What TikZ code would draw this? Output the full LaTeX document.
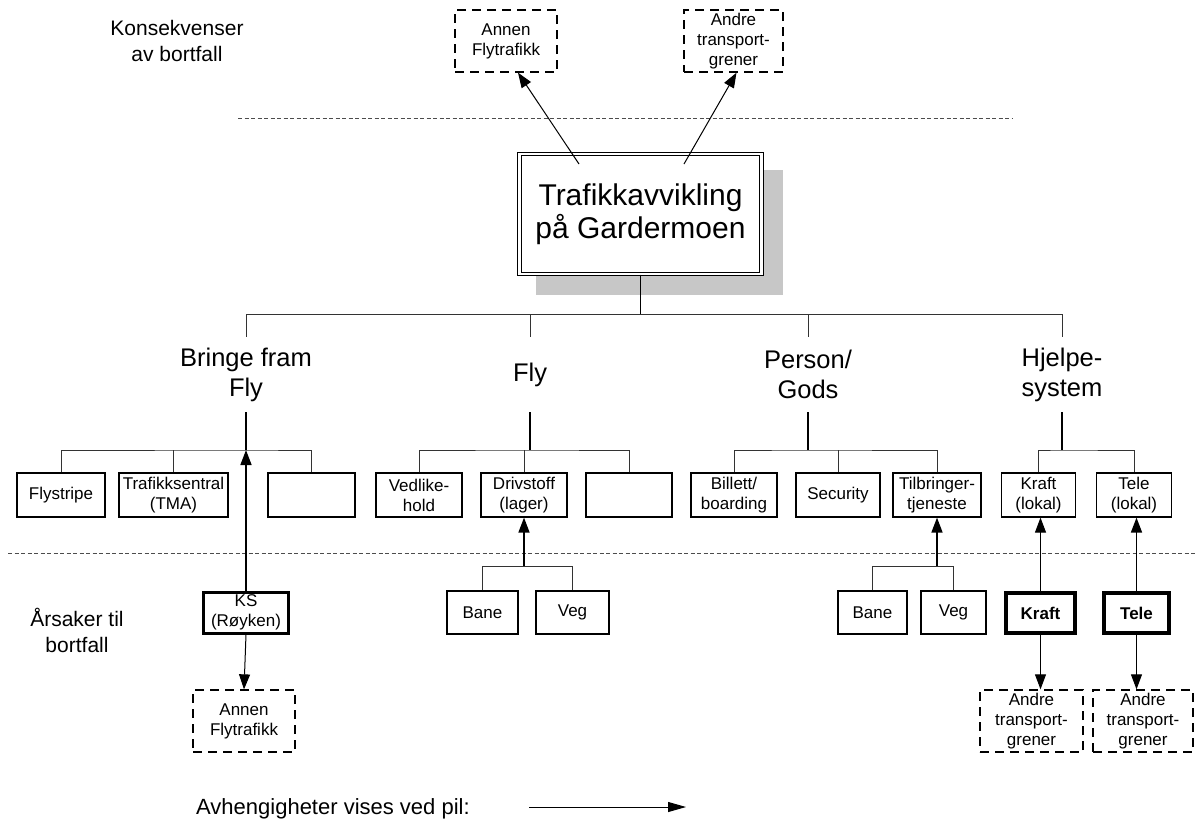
\documentclass[tikz,border=0pt]{standalone}
\usepackage{fontspec}
\setmainfont{Liberation Sans}
\usetikzlibrary{arrows.meta}
\newcommand{\fbx}{\fontsize{17}{20}\selectfont}
\newcommand{\flbl}{\fontsize{25.5}{30}\selectfont}
\newcommand{\fttl}{\fontsize{30}{33}\selectfont}
\newcommand{\fside}{\fontsize{21}{26}\selectfont}
\newcommand{\fleg}{\fontsize{22}{26}\selectfont}
\begin{document}
\begin{tikzpicture}[x=1pt,y=-1pt,
  box/.style={draw, line width=1.2pt, fill=white, align=center, inner sep=0pt, font=\fbx},
  dbox/.style={box, dash pattern=on 9pt off 6pt, line width=1.3pt, minimum height=62},
  sbox/.style={box, minimum height=44},
  lbox/.style={box, minimum height=43},
  bbox/.style={box, line width=4pt, minimum height=40},
  ksbox/.style={box, line width=3pt, minimum height=41},
  lbl/.style={align=center, font=\flbl, inner sep=0pt, minimum height=75},
  side/.style={align=center, font=\fside, inner sep=0pt},
  tree/.style={line width=1pt, draw=black!80},
  stem/.style={line width=1.7pt},
  arr/.style={line width=1pt, -{Triangle[length=15pt,width=11pt]}},
  barr/.style={arr, line width=1.6pt},
  sep/.style={dash pattern=on 4pt off 2.5pt, line width=0.9pt, draw=black!70},
  mainbox/.style={draw, fill=white, double=white, double distance=2.6pt, line width=1pt,
     align=center, font=\fttl, inner sep=0pt, minimum width=242, minimum height=120}
]
\useasboundingbox (0,0) rectangle (1195,823);

% side texts
\node[side] (kons) at (177,41) {Konsekvenser\\av bortfall};
\node[side] (aars) at (77,630) {Årsaker til\\bortfall};

% separators
\draw[sep] (238,118) -- (1012,118);
\draw[sep] (8,553) -- (1195,553);

% consequence boxes (top)
\node[dbox, minimum width=102] (cA) at (506,41) {Annen\\Flytrafikk};
\node[dbox, minimum width=99] (cB) at (733.5,41) {Andre\\transport-\\grener};

% main box with shadow
\fill[black!22] (536,170) rectangle (783,295);
\node[mainbox] (main) at (640.5,214) {Trafikkavvikling\\på Gardermoen};

\coordinate (mA) at (579,164);
\coordinate (mB) at (684,164);
\draw[arr] (mA) -- ([xshift=12pt]cA.south);
\draw[arr] (mB) -- ([xshift=3pt]cB.south);

% top bus
\coordinate (j0) at (640.5,314);
\coordinate (b1) at (246,314);
\coordinate (b2) at (530,314);
\coordinate (b3) at (808,314);
\coordinate (b4) at (1062,314);
\draw[stem, line width=1.4pt] (main.south) -- (j0);
\draw[tree] (b1) -- (b4);

% branch labels
\node[lbl] (l1) at (246,374.5) {Bringe fram\\Fly};
\node[lbl] (l2) at (530,374.5) {Fly};
\node[lbl] (l3) at (808,374.5) {Person/\\Gods};
\node[lbl] (l4) at (1062,374.5) {Hjelpe-\\system};
\foreach \b/\l in {b1/l1,b2/l2,b3/l3,b4/l4} \draw[tree] (\b) -- (\l.north);

\coordinate (s1) at (246,450);
\coordinate (s2) at (530,450);
\coordinate (s3) at (808,450);
\coordinate (s4) at (1062,450);
\foreach \s/\l in {s1/l1,s2/l2,s3/l3,s4/l4} \draw[stem] (\l.south) -- (\s);

% sub boxes
\node[sbox, minimum width=88] (flys) at (61,495) {Flystripe};
\node[sbox, minimum width=109] (tma) at (173.5,495) {Trafikksentral\\(TMA)};
\node[sbox, minimum width=87] (e1) at (311.5,495) {};
\node[sbox, minimum width=86] (ved) at (419,495) {Vedlike-\\hold};
\node[sbox, minimum width=86] (driv) at (524,495) {Drivstoff\\(lager)};
\node[sbox, minimum width=86] (e2) at (629,495) {};
\node[sbox, minimum width=86] (bill) at (734,495) {Billett/\\boarding};
\node[sbox, minimum width=84] (sec) at (838,495) {Security};
\node[sbox, minimum width=88] (til) at (937,495) {Tilbringer-\\tjeneste};
\node[sbox, minimum width=74] (kraftl) at (1038.5,495) {Kraft\\(lokal)};
\node[sbox, minimum width=75] (telel) at (1134,495) {Tele\\(lokal)};

\draw[tree] (flys.north) |- (s1) -| (e1.north);
\draw[tree] (tma.north) -- (tma.north |- s1);
\draw[tree] (ved.north) |- (s2) -| (e2.north);
\draw[tree] (driv.north) -- (driv.north |- s2);
\draw[tree] (bill.north) |- (s3) -| (til.north);
\draw[tree] (sec.north) -- (sec.north |- s3);
\draw[tree] (kraftl.north) |- (s4) -| (telel.north);

% cause boxes
\node[ksbox, minimum width=85] (ks) at (246,612.5) {KS\\(Røyken)};
\node[lbox, minimum width=71] (bane1) at (482.5,612.5) {Bane};
\node[lbox, minimum width=73] (veg1) at (572.5,612.5) {Veg};
\node[lbox, minimum width=69] (bane2) at (872.5,612.5) {Bane};
\node[lbox, minimum width=65] (veg2) at (953.5,612.5) {Veg};
\node[bbox, minimum width=69] (kraft) at (1040.5,613) {\bfseries Kraft};
\node[bbox, minimum width=65] (tele) at (1136.5,613) {\bfseries Tele};

\coordinate (q1) at (524,566);
\coordinate (q2) at (937,566);
\draw[tree] (bane1.north) |- (q1) -| (veg1.north);
\draw[tree] (bane2.north) |- (q2) -| (veg2.north);
\draw[barr] (q1) -- (driv.south);
\draw[barr] (q2) -- (til.south);
\draw[barr] (ks.north) -- (s1);
\draw[arr] (kraft.north) -- (kraft.north |- kraftl.south);
\draw[barr] (tele.north) -- (tele.north |- telel.south);

% consequence boxes (bottom)
\node[dbox, minimum width=102] (oA) at (244,721) {Annen\\Flytrafikk};
\node[dbox, minimum width=103] (oB) at (1031.5,721) {Andre\\transport-\\grener};
\node[dbox, minimum width=100] (oC) at (1143,721) {Andre\\transport-\\grener};
\draw[arr] (ks.south) -- (oA.north);
\draw[arr] (kraft.south) -- (kraft.south |- oB.north);
\draw[arr] (tele.south) -- (tele.south |- oC.north);

% legend
\node[font=\fleg, inner sep=0pt, anchor=base west] (leg) at (196,814) {Avhengigheter vises ved pil:};
\coordinate (legA) at (529,807);
\coordinate (legB) at (686,807);
\draw[arr, -{Triangle[length=18pt,width=10pt]}] (legA) -- (legB);
\end{tikzpicture}
\end{document}
